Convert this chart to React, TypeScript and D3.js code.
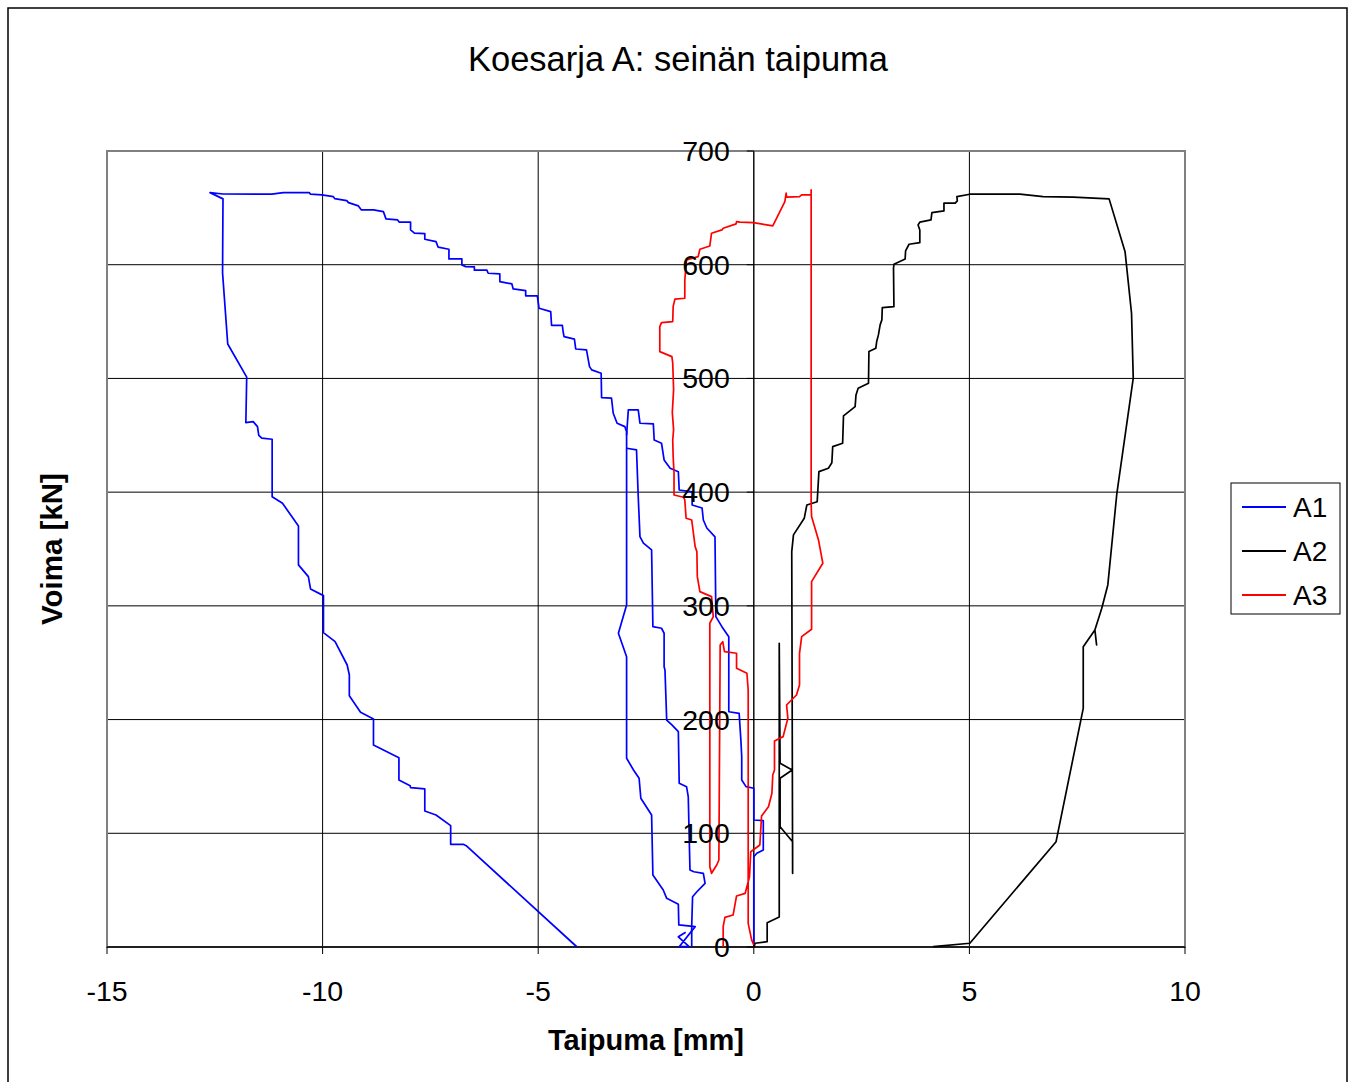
import React from "react";
import * as d3 from "d3";

type P = [number, number];

const TITLE = "Koesarja A: seinän taipuma";
const X_TITLE = "Taipuma [mm]";
const Y_TITLE = "Voima [kN]";
const X_TICKS = [-15, -10, -5, 0, 5, 10];
const Y_TICKS = [0, 100, 200, 300, 400, 500, 600, 700];
const SERIES_NAMES = ["A1", "A2", "A3"];
const SERIES_COLORS = ["#0000FF", "#000000", "#FF0000"];

// A1: outer cycle
const A1_outer: P[] = [
  [-4.10, 0], [-6.67, 89.1], [-6.74, 90.3], [-7.03, 90.3], [-7.03, 106.7], [-7.37, 116.1],
  [-7.63, 119.6], [-7.63, 139.0], [-7.96, 140.1], [-7.97, 141.9], [-8.23, 146.9], [-8.23, 166.5],
  [-8.82, 177.7], [-8.82, 200.5], [-9.12, 206.4], [-9.38, 221.0], [-9.38, 239.2], [-9.43, 248.0],
  [-9.71, 268.5], [-9.98, 276.4], [-9.98, 309.0], [-10.28, 314.9], [-10.33, 325.7], [-10.56, 336.0],
  [-10.56, 370.3], [-10.93, 390.2], [-11.17, 396.0], [-11.17, 446.5], [-11.41, 447.5], [-11.48, 450.0],
  [-11.51, 457.6], [-11.61, 462.0], [-11.78, 461.1], [-11.76, 501.1], [-12.20, 530.3], [-12.32, 592.8],
  [-12.31, 657.9], [-12.61, 663.4], [-12.31, 662.2], [-11.18, 662.0], [-10.91, 663.4], [-10.31, 663.4],
  [-10.28, 662.0], [-10.02, 661.4], [-9.75, 659.9], [-9.72, 658.1], [-9.44, 656.4], [-9.40, 654.6],
  [-9.17, 651.7], [-9.10, 648.2], [-8.82, 648.2], [-8.59, 646.7], [-8.53, 640.3], [-8.26, 639.4],
  [-8.22, 637.4], [-7.96, 637.4], [-7.96, 630.6], [-7.87, 627.7], [-7.63, 627.4], [-7.63, 622.4],
  [-7.37, 620.3], [-7.32, 615.4], [-7.07, 613.6], [-7.07, 605.1], [-6.77, 605.1], [-6.77, 599.8],
  [-6.68, 598.3], [-6.48, 598.1], [-6.48, 595.2], [-6.19, 595.2], [-6.16, 592.5], [-5.89, 591.9],
  [-5.89, 585.1], [-5.61, 583.1], [-5.58, 578.7], [-5.29, 577.2], [-5.29, 572.6], [-5.02, 572.6],
  [-4.98, 561.7], [-4.71, 558.8], [-4.69, 546.6], [-4.44, 546.6], [-4.42, 540.6], [-4.40, 536.8],
  [-4.16, 534.5], [-4.13, 525.9], [-3.88, 525.1], [-3.81, 510.4], [-3.76, 507.5], [-3.54, 504.6],
  [-3.53, 483.1], [-3.30, 482.6], [-3.26, 469.4], [-3.17, 460.6], [-2.99, 457.6], [-2.95, 453.2],
  [-2.95, 300.8], [-3.14, 275.9], [-2.95, 255.3], [-2.95, 166.0], [-2.79, 155.7], [-2.66, 148.4],
  [-2.62, 130.8], [-2.37, 116.1], [-2.34, 63.3], [-2.10, 50.1], [-2.02, 42.8], [-1.75, 37.6],
  [-1.74, 20.8], [-1.74, 19.4], [-1.36, 17.9], [-1.73, 0.3], [-1.50, 0.3], [-1.75, 9.0], [-1.58, 13.0],
];

// A1: inner cycle
const A1_inner: P[] = [
  [-2.95, 450.0], [-2.91, 472.3], [-2.68, 472.3], [-2.64, 460.6], [-2.33, 460.0], [-2.31, 445.9],
  [-2.14, 443.0], [-2.08, 428.3], [-1.94, 421.0], [-1.75, 418.0], [-1.73, 401.9], [-1.43, 400.2],
  [-1.43, 388.7], [-1.20, 386.1], [-1.17, 375.5], [-1.09, 368.5], [-0.90, 360.6], [-0.88, 290.5],
  [-0.74, 281.7], [-0.58, 272.9], [-0.58, 206.9], [-0.34, 205.5], [-0.30, 182.1], [-0.28, 167.4],
  [-0.28, 146.9], [-0.18, 141.0], [0.0, 139.6], [0.0, 111.7], [0.22, 111.1], [0.22, 85.3],
  [0.07, 82.4], [0.0, 79.4], [0.0, 1.8],
];

// A1: middle branch
const A1_middle: P[] = [
  [-2.95, 438.6], [-2.72, 437.1], [-2.68, 396.0], [-2.64, 360.9], [-2.56, 355.1], [-2.37, 349.2],
  [-2.34, 281.7], [-2.14, 280.3], [-2.08, 275.9], [-2.08, 246.5], [-2.06, 243.6], [-2.02, 199.6],
  [-1.90, 195.3], [-1.75, 189.4], [-1.73, 144.0], [-1.56, 141.0], [-1.52, 132.2], [-1.48, 67.7],
  [-1.39, 66.2], [-1.17, 64.8], [-1.13, 56.0], [-1.32, 48.6], [-1.42, 44.2], [-1.44, 17.9], [-1.44, 0.3],
];

const A2_values: P[] = [
  [0.01, 0.3], [0.03, 3.3], [0.31, 4.7], [0.31, 21.4], [0.59, 26.4], [0.59, 267.1], [0.61, 161.6],
  [0.89, 155.7], [0.61, 148.4], [0.61, 105.8], [0.90, 92.6], [0.90, 64.8], [0.89, 217.2], [0.88, 347.7],
  [0.92, 362.4], [1.17, 377.0], [1.23, 388.7], [1.47, 391.6], [1.51, 418.0], [1.73, 421.0], [1.81, 425.9],
  [1.83, 440.0], [2.06, 443.0], [2.08, 467.0], [2.35, 475.2], [2.37, 485.5], [2.42, 491.4], [2.66, 495.7],
  [2.67, 523.6], [2.83, 526.6], [2.85, 532.4], [2.89, 538.3], [2.93, 547.1], [2.97, 551.5], [2.98, 562.3],
  [3.25, 563.1], [3.24, 596.9], [3.25, 600.4], [3.51, 605.1], [3.52, 612.1], [3.60, 618.0], [3.85, 619.4],
  [3.85, 630.6], [3.81, 635.0], [3.85, 637.4], [4.11, 639.4], [4.13, 645.8], [4.41, 647.3], [4.41, 654.1],
  [4.67, 654.1], [4.72, 656.1], [4.71, 659.9], [5.01, 662.0], [6.17, 662.0], [6.71, 659.9], [7.41, 659.4],
  [8.24, 657.9], [8.61, 611.5], [8.76, 557.3], [8.80, 500.2], [8.42, 399.0], [8.21, 318.4], [8.07, 297.9],
  [7.91, 278.8], [7.95, 265.6], [7.91, 278.8], [7.64, 264.1], [7.64, 209.9], [7.01, 92.6], [5.01, 3.3],
  [4.16, 0.3],
];

const A3_values: P[] = [
  [-0.71, 0.3], [-0.71, 17.9], [-0.67, 26.1], [-0.48, 28.1], [-0.40, 44.9], [-0.20, 47.2], [-0.10, 61.8],
  [-0.07, 83.8], [0.14, 89.7], [0.18, 115.2], [0.34, 123.4], [0.42, 135.2], [0.44, 151.3], [0.48, 155.7],
  [0.48, 181.2], [0.68, 185.0], [0.79, 201.1], [0.76, 212.8], [0.99, 221.6], [1.06, 230.4], [1.06, 258.3],
  [1.11, 272.9], [1.34, 279.4], [1.34, 321.3], [1.60, 337.5], [1.50, 358.0], [1.34, 378.5], [1.33, 390.2],
  [1.33, 665.8], [1.33, 661.4], [1.11, 661.4], [1.06, 659.9], [0.76, 659.4], [0.75, 662.9], [0.72, 655.5],
  [0.44, 634.1], [-0.01, 637.0], [-0.32, 637.4], [-0.40, 637.9], [-0.41, 635.9], [-0.71, 632.1],
  [-0.74, 630.6], [-0.98, 627.7], [-1.02, 616.5], [-1.25, 613.6], [-1.29, 607.1], [-1.56, 604.2],
  [-1.60, 586.6], [-1.60, 570.5], [-1.83, 569.7], [-1.87, 563.1], [-1.88, 550.0], [-2.14, 549.1],
  [-2.18, 545.6], [-2.18, 523.6], [-1.90, 519.2], [-1.88, 513.4], [-1.86, 490.0], [-1.89, 470.0],
  [-1.86, 455.0], [-1.88, 445.9], [-1.87, 431.2], [-1.85, 416.6], [-1.85, 397.5], [-1.63, 395.5],
  [-1.60, 393.1], [-1.57, 377.0], [-1.44, 375.5], [-1.36, 352.1], [-1.32, 347.7], [-1.31, 325.7],
  [-1.25, 312.5], [-0.98, 308.1], [-0.94, 290.5], [-1.02, 284.7], [-1.02, 70.6], [-0.98, 64.8],
  [-0.86, 72.1], [-0.81, 76.5], [-0.78, 265.6], [-0.72, 268.5], [-0.68, 259.7], [-0.40, 258.3],
  [-0.40, 245.1], [-0.16, 240.7], [-0.13, 226.0], [-0.13, 20.8], [-0.05, 6.2], [0.0, 1.8],
];

const SERIES_SEGMENTS: P[][][] = [[A1_outer, A1_inner, A1_middle], [A2_values], [A3_values]];

const FONT = "'Liberation Sans', Arial, sans-serif";

export default function App() {
  const x = d3.scaleLinear().domain([-15, 10]).range([107, 1185]);
  const y = d3.scaleLinear().domain([0, 700]).range([947, 151]);
  const line = d3
    .line<P>()
    .x((d) => x(d[0]))
    .y((d) => y(d[1]));

  const left = x(-15), right = x(10), top = y(700), bottom = y(0);

  return (
    <svg
      width={1354}
      height={1082}
      style={{ position: "absolute", left: 0, top: 0, background: "#fff" }}
      fontFamily={FONT}
    >
      <rect x={0} y={0} width={1354} height={1082} fill="#fff" />
      <rect x={8} y={8} width={1339} height={1090} fill="none" stroke="#000" strokeWidth={1.5} />
      <text x={678} y={71} textAnchor="middle" fontSize={34.5} fill="#000">
        {TITLE}
      </text>

      {/* gridlines */}
      {Y_TICKS.map((t) => (
        <line key={"gy" + t} x1={left} x2={right} y1={y(t)} y2={y(t)} stroke="#000" strokeWidth={1} />
      ))}
      {X_TICKS.map((t) => (
        <line key={"gx" + t} x1={x(t)} x2={x(t)} y1={top} y2={bottom} stroke="#000" strokeWidth={1} />
      ))}
      <rect x={left} y={top} width={right - left} height={bottom - top} fill="none" stroke="#808080" strokeWidth={2} />

      {/* axes */}
      <line x1={x(0)} x2={x(0)} y1={top} y2={bottom} stroke="#000" strokeWidth={1} />
      <line x1={left} x2={right} y1={bottom} y2={bottom} stroke="#000" strokeWidth={1.5} />
      {Y_TICKS.map((t) => (
        <line key={"ty" + t} x1={x(0) - 7} x2={x(0)} y1={y(t)} y2={y(t)} stroke="#000" strokeWidth={1} />
      ))}
      {X_TICKS.map((t) => (
        <line key={"tx" + t} x1={x(t)} x2={x(t)} y1={bottom} y2={bottom + 7} stroke="#000" strokeWidth={1} />
      ))}

      {/* series */}
      {SERIES_SEGMENTS.map((segs, i) =>
        segs.map((seg, j) => (
          <path
            key={"s" + i + "-" + j}
            d={line(seg) || ""}
            fill="none"
            stroke={SERIES_COLORS[i]}
            strokeWidth={1.7}
            strokeLinejoin="round"
          />
        ))
      )}

      {/* tick labels */}
      {Y_TICKS.map((t) => (
        <text key={"ly" + t} x={x(0) - 24} y={y(t) + 10} textAnchor="end" fontSize={28.5} fill="#000">
          {t}
        </text>
      ))}
      {X_TICKS.map((t) => (
        <text key={"lx" + t} x={x(t)} y={bottom + 54} textAnchor="middle" fontSize={28.5} fill="#000">
          {t}
        </text>
      ))}

      <text x={646} y={1050} textAnchor="middle" fontSize={29} fontWeight="bold" fill="#000">
        {X_TITLE}
      </text>
      <text
        transform={`translate(62, 549) rotate(-90)`}
        textAnchor="middle"
        fontSize={29.5}
        fontWeight="bold"
        fill="#000"
      >
        {Y_TITLE}
      </text>

      {/* legend */}
      <rect x={1231} y={483} width={109} height={131} fill="#fff" stroke="#000" strokeWidth={1} />
      {SERIES_NAMES.map((n, i) => (
        <g key={"lg" + n}>
          <line x1={1242} x2={1286} y1={507 + i * 44} y2={507 + i * 44} stroke={SERIES_COLORS[i]} strokeWidth={1.8} />
          <text x={1293} y={517 + i * 44} fontSize={28} fill="#000">
            {n}
          </text>
        </g>
      ))}
    </svg>
  );
}
